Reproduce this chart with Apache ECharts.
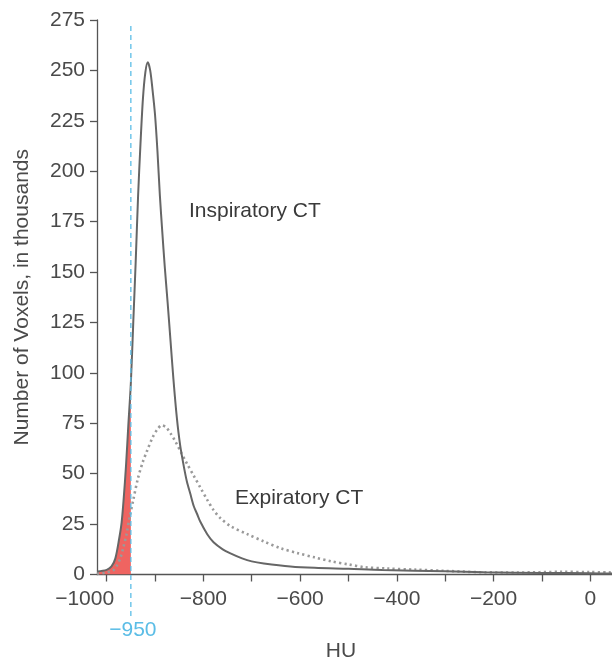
<!DOCTYPE html>
<html>
<head>
<meta charset="utf-8">
<script src="https://cdn.jsdelivr.net/npm/echarts@6/dist/echarts.min.js"></script>
<style>
html,body{margin:0;padding:0;background:#fff;}
#chart{width:612px;height:665px;}
</style>
</head>
<body>
<div id="chart"></div>
<script>
// ---- data ----
const inspHU  = [-1020,-1000,-990,-982,-974,-969,-965,-960,-955,-950,-945,-940,-935,-930,-925,-920,-915,-910,-905,-900,-895,-890,-885,-880,-874,-868,-862,-855,-848,-840,-834,-827,-820,-813,-806,-792,-779,-760,-744,-720,-700,-675,-620,-570,-500,-430,-300,-220,-100,0,45];
const inspVal = [1.5,2.3,4,8,18,26,37,54,75,95,125,155,188,214,236,249,254,250,240,228,210,188,170,153,135,116,97,78,64,53,46,40,34,30,26,20,16,12.5,10.5,8,6.5,5.5,4,3.3,2.8,2.2,1.6,1.1,0.8,0.6,0.5];
const expHU   = [-1020,-1000,-987,-980,-972,-966,-959,-952,-945,-935,-925,-917,-905,-895,-886,-877,-868,-858,-845,-834,-820,-806,-792,-779,-765,-744,-709,-675,-640,-605,-570,-535,-500,-466,-420,-362,-300,-223,-150,-60,0,45];
const expVal  = [0.5,1,2,4,8,13,20,29,37,48,56,61,68,72,74,73,70,66,60,55,49,43,37,32,28,24,20,16.4,13,10.6,8.5,6.5,5,3.6,3,2.4,1.8,1.1,1,1.3,1.2,1];
const threshold = -950;
const thresholdTop = 272;
const xTicks  = [-1000,-900,-800,-700,-600,-500,-400,-300,-200,-100,0];
const xLabels = [-1000,-800,-600,-400,-200,0];
const seriesNames = ['Inspiratory CT','Expiratory CT'];
const xTitle = 'HU';
const yTitle = 'Number of Voxels, in thousands';

// ---- build ----
const insp = inspHU.map((h,i)=>[h,inspVal[i]]);
const exp  = expHU.map((h,i)=>[h,expVal[i]]);
const emph = insp.filter(p=>p[0] <= threshold);
const minus = v => String(v).replace('-', '\u2212');
const FONT = 'Liberation Sans';
const TXT = '#4a4a4a';
const SMOOTH = 0.3;

const chart = echarts.init(document.getElementById('chart'), null, {renderer:'canvas'});
chart.setOption({
  animation:false,
  backgroundColor:'#fff',
  textStyle:{fontFamily:FONT},
  grid:{left:97,right:0,top:20,bottom:90.5,containLabel:false,outerBoundsMode:'none'},
  xAxis:{
    type:'value', min:-1020, max:45,
    name:xTitle, nameLocation:'middle', nameGap:66,
    nameTextStyle:{fontSize:21,color:TXT,fontFamily:FONT,padding:[0,27,0,0]},
    axisLine:{show:true,onZero:false,lineStyle:{color:'#555',width:1.3}},
    axisTick:{show:true,length:7,inside:false,customValues:xTicks,lineStyle:{color:'#555',width:1.3}},
    axisLabel:{
      customValues:xLabels, margin:14, fontSize:21, color:TXT, fontFamily:FONT,
      formatter:v => v===-1000 ? '{s|'+minus(v)+'}' : minus(v),
      rich:{s:{fontSize:21,color:TXT,fontFamily:FONT,padding:[0,44,0,0]}}
    },
    splitLine:{show:false}
  },
  yAxis:{
    type:'value', min:0, max:275, interval:25,
    name:yTitle, nameLocation:'middle', nameGap:64, nameRotate:90,
    nameTextStyle:{fontSize:21,color:TXT,fontFamily:FONT},
    axisLine:{show:true,onZero:false,lineStyle:{color:'#555',width:1.3}},
    axisTick:{show:true,length:7,inside:false,lineStyle:{color:'#555',width:1.3}},
    axisLabel:{margin:12,fontSize:21,color:TXT,fontFamily:FONT},
    splitLine:{show:false}
  },
  series:[
    {
      name:'emph', type:'line', data:emph, showSymbol:false, smooth:SMOOTH,
      lineStyle:{width:0}, areaStyle:{color:'#ef6461',opacity:1}, z:1, silent:true
    },
    {
      name:seriesNames[1], type:'line', data:exp, showSymbol:false, smooth:SMOOTH,
      lineStyle:{color:'#9a9a9a',width:2.6,type:[2.2,3.2]}, z:2, silent:true
    },
    {
      name:seriesNames[0], type:'line', data:insp, showSymbol:false, smooth:SMOOTH,
      lineStyle:{color:'#666',width:2}, z:3, silent:true
    },
    {
      type:'custom', data:[[threshold, thresholdTop]], clip:false, z:4, silent:true,
      renderItem:(params, api) => {
        const top = api.coord([api.value(0), api.value(1)]);
        const base = api.coord([api.value(0), 0]);
        return {
          type:'group',
          children:[
            {type:'line', shape:{x1:top[0],y1:top[1],x2:base[0],y2:base[1]+43},
             style:{stroke:'#5bbde6',lineWidth:1.3,lineDash:[5,4]}},
            {type:'text', x:base[0]+2, y:base[1]+56,
             style:{text:minus(api.value(0)),fill:'#5bbde6',font:'21px "'+FONT+'"',align:'center',verticalAlign:'middle'}}
          ]
        };
      }
    }
  ],
  graphic:[
    {type:'text', left:189, top:201, style:{text:seriesNames[0],fill:'#3a3a3a',font:'21px "'+FONT+'"'}},
    {type:'text', left:235, top:488, style:{text:seriesNames[1],fill:'#3a3a3a',font:'21px "'+FONT+'"'}}
  ]
});
</script>
</body>
</html>
